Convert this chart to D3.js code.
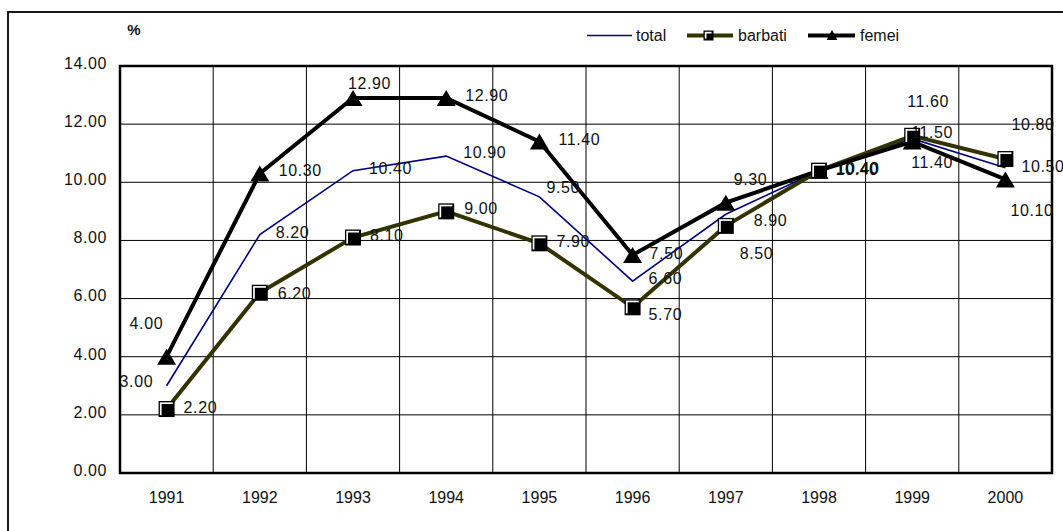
<!DOCTYPE html>
<html>
<head>
<meta charset="utf-8">
<script src="https://cdn.jsdelivr.net/npm/d3@7"></script>
<style>
  html, body { margin: 0; padding: 0; background: #fff; }
  svg { display: block; }
  text { font-family: "Liberation Sans", Arial, sans-serif; fill: #111; }
</style>
</head>
<body>
<svg id="chart" width="1063" height="531"></svg>
<script>
// ---- data ----
const years = ["1991", "1992", "1993", "1994", "1995", "1996", "1997", "1998", "1999", "2000"];
const total = [3.00, 8.20, 10.40, 10.90, 9.50, 6.60, 8.90, 10.40, 11.50, 10.50];
const barbati = [2.20, 6.20, 8.10, 9.00, 7.90, 5.70, 8.50, 10.40, 11.60, 10.80];
const femei = [4.00, 10.30, 12.90, 12.90, 11.40, 7.50, 9.30, 10.40, 11.40, 10.10];
const yTicks = [0, 2, 4, 6, 8, 10, 12, 14];
const seriesNames = ["total", "barbati", "femei"];
const unitLabel = "%";

// ---- label placement (layout only) ----
const labelOffsets = {
  total:   [[-47, -5], [16, -2], [16, -2], [17, -4], [7, -10], [16, -3], [28, 6], [17, -2], [-1, -6], [16, -2]],
  barbati: [[17, -2], [18, 0], [17, -2.5], [18, -3], [17, -2.5], [16, 7], [14, 27], [17.5, -2.5], [-5, -35], [6, -35]],
  femei:   [[-37, -33], [19, -3.5], [-5, -15], [19, -3], [19, -2], [17, -2], [8, -23], [16.5, -1.5], [-1, 21], [5, 31]]
};

const svg = d3.select("#chart");
const plot = { left: 120, right: 1052, top: 66, bottom: 473 };

const x = d3.scaleBand().domain(years).range([plot.left, plot.right]).padding(0);
const y = d3.scaleLinear().domain([0, 14]).range([plot.bottom, plot.top]);
const cx = d => x(d) + x.bandwidth() / 2;

// outer frame
svg.append("rect").attr("x", 8).attr("y", 12).attr("width", 1200).attr("height", 700)
  .attr("fill", "none").attr("stroke", "#000").attr("stroke-width", 1.8);

// gridlines (horizontal)
svg.append("g").selectAll("line").data(yTicks).join("line")
  .attr("x1", plot.left).attr("x2", plot.right)
  .attr("y1", d => y(d)).attr("y2", d => y(d))
  .attr("stroke", "#000").attr("stroke-width", 1);

// gridlines (vertical, category boundaries)
svg.append("g").selectAll("line").data(years.slice(1)).join("line")
  .attr("x1", d => x(d)).attr("x2", d => x(d))
  .attr("y1", plot.top).attr("y2", plot.bottom)
  .attr("stroke", "#000").attr("stroke-width", 1);

// plot frame
svg.append("rect").attr("x", plot.left).attr("y", plot.top)
  .attr("width", plot.right - plot.left).attr("height", plot.bottom - plot.top)
  .attr("fill", "none").attr("stroke", "#000").attr("stroke-width", 2.5);

// y axis labels
const yAxis = d3.axisLeft(y).tickValues(yTicks).tickFormat(d3.format(".2f")).tickSize(0).tickPadding(13);
const gy = svg.append("g").attr("transform", `translate(${plot.left},0)`).call(yAxis);
gy.select(".domain").remove();
gy.selectAll("text").attr("font-size", 16).attr("letter-spacing", "0.6px")
  .attr("font-family", "Liberation Sans, Arial, sans-serif").attr("fill", "#111").attr("dy", "0.15em");

// x axis labels
const xAxis = d3.axisBottom(x).tickSize(0).tickPadding(19);
const gx = svg.append("g").attr("transform", `translate(0,${plot.bottom})`).call(xAxis);
gx.select(".domain").remove();
gx.selectAll("text").attr("font-size", 16)
  .attr("font-family", "Liberation Sans, Arial, sans-serif").attr("fill", "#111");

// unit label
svg.append("text").attr("x", 134).attr("y", 35).attr("text-anchor", "middle")
  .attr("font-size", 15).attr("font-weight", "bold").text(unitLabel);

// lines
const line = d3.line().x((d, i) => cx(years[i])).y(d => y(d));
svg.append("path").datum(total).attr("d", line).attr("fill", "none")
  .attr("stroke", "#000080").attr("stroke-width", 1.6);
svg.append("path").datum(barbati).attr("d", line).attr("fill", "none")
  .attr("stroke", "#333300").attr("stroke-width", 4);
svg.append("path").datum(femei).attr("d", line).attr("fill", "none")
  .attr("stroke", "#000").attr("stroke-width", 4);

// markers
const tri = d3.symbol().type(d3.symbolTriangle);
function triPath(w, h) {
  return `M0,${-h / 2}L${w / 2},${h / 2}L${-w / 2},${h / 2}Z`;
}
svg.append("g").selectAll("path").data(femei).join("path")
  .attr("transform", (d, i) => `translate(${cx(years[i])},${y(d)})`)
  .attr("d", triPath(19, 16)).attr("fill", "#000");

function drawSquare(g, s) {
  g.append("rect").attr("x", -s / 2).attr("y", -s / 2).attr("width", s).attr("height", s).attr("fill", "#000");
  g.append("rect").attr("x", -s / 2 + 1.3).attr("y", -s / 2 + 1.3).attr("width", s - 3.2).attr("height", s - 3.2)
    .attr("fill", "#fff");
  g.append("rect").attr("x", -s / 2 + 3).attr("y", -s / 2 + 3).attr("width", s - 4).attr("height", s - 4)
    .attr("fill", "#000");
}
svg.append("g").selectAll("g").data(barbati).join("g")
  .attr("transform", (d, i) => `translate(${cx(years[i])},${y(d)})`)
  .each(function () { drawSquare(d3.select(this), 16); });

// data labels
const seriesData = { total, barbati, femei };
seriesNames.forEach(name => {
  svg.append("g").selectAll("text").data(seriesData[name]).join("text")
    .attr("x", (d, i) => cx(years[i]) + labelOffsets[name][i][0])
    .attr("y", (d, i) => y(d) + labelOffsets[name][i][1])
    .attr("dy", "0.36em")
    .attr("font-size", 16).attr("letter-spacing", "0.6px")
    .text(d => d3.format(".2f")(d));
});

// legend
const lg = svg.append("g");
lg.append("line").attr("x1", 587).attr("x2", 632).attr("y1", 35.5).attr("y2", 35.5)
  .attr("stroke", "#000080").attr("stroke-width", 1.6);
lg.append("text").attr("x", 636).attr("y", 35.5).attr("dy", "0.36em").attr("font-size", 16).text(seriesNames[0]);
lg.append("line").attr("x1", 687).attr("x2", 733).attr("y1", 35.5).attr("y2", 35.5)
  .attr("stroke", "#333300").attr("stroke-width", 4);
const lsq = lg.append("g").attr("transform", "translate(708.5,35.5)");
drawSquare(lsq, 10);
lg.append("text").attr("x", 738).attr("y", 35.5).attr("dy", "0.36em").attr("font-size", 16).text(seriesNames[1]);
lg.append("line").attr("x1", 808).attr("x2", 855).attr("y1", 35.5).attr("y2", 35.5)
  .attr("stroke", "#000").attr("stroke-width", 4);
lg.append("path").attr("transform", "translate(832,35)").attr("d", triPath(11, 10)).attr("fill", "#000");
lg.append("text").attr("x", 860).attr("y", 35.5).attr("dy", "0.36em").attr("font-size", 16).text(seriesNames[2]);
</script>
</body>
</html>
